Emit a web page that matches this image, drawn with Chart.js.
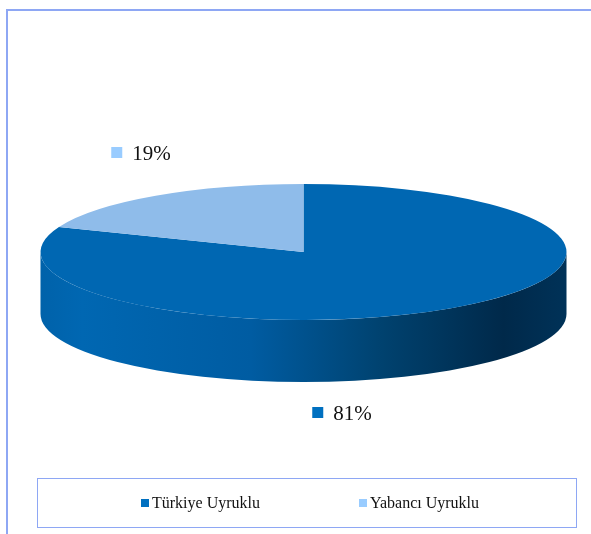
<!DOCTYPE html>
<html>
<head>
<meta charset="utf-8">
<script src="https://cdn.jsdelivr.net/npm/chart.js@4/dist/chart.umd.min.js"></script>
<style>
  html, body { margin: 0; padding: 0; background: #fff; }
  body { width: 591px; height: 534px; position: relative; overflow: hidden; font-family: "Liberation Serif", "Times New Roman", serif; }
  #frame { position: absolute; left: 6px; top: 9px; width: 600px; height: 540px; border-left: 2px solid #8ea7f4; border-top: 2px solid #8ea7f4; box-sizing: border-box; }
  #myPie { position: absolute; left: 0; top: 0; }
  #legendBox { position: absolute; left: 37px; top: 478px; width: 540px; height: 50px; border: 1.5px solid #8ea7f4; box-sizing: border-box;
    display: flex; justify-content: center; align-items: center; gap: 99px; padding-left: 6px; }
  .item { display: flex; align-items: center; font-size: 16px; color: #111; }
  .item span.sw { width: 8px; height: 8px; margin-right: 3px; display: inline-block; }
</style>
</head>
<body>
<div id="frame"></div>
<canvas id="myPie" width="591" height="534"></canvas>
<div id="legendBox"></div>
<script>
var labels = ["Türkiye Uyruklu", "Yabancı Uyruklu"];
var values = [81, 19];
var sliceColors = ["#0067b2", "#8fbcea"];
var legendColors = ["#0070c0", "#99ccff"];

// ellipse that the flat pie is squashed into
var CX = 303.5, CY = 252, RX = 263, RY = 68, DEPTH = 62;
// where the percent labels sit (centre of marker + text)
var labelAt = [{x: 342, y: 413}, {x: 141, y: 153}];

var pie3d = {
    id: "pie3d",
    beforeDatasetsDraw: function(chart) {
        var ctx = chart.ctx;
        var arcs = chart.getDatasetMeta(0).data;
        arcs.forEach(function(arc, i) {
            [0, 2 * Math.PI].forEach(function(off) {
                var a0 = Math.max(arc.startAngle, off);
                var a1 = Math.min(arc.endAngle, off + Math.PI);
                if (a1 <= a0) return;
                var g = ctx.createLinearGradient(CX - RX, 0, CX + RX, 0);
                if (i == 0) {
                    g.addColorStop(0, "#0062aa");
                    g.addColorStop(0.08, "#0067b2");
                    g.addColorStop(0.4, "#005ca2");
                    g.addColorStop(0.65, "#00426f");
                    g.addColorStop(0.88, "#00294a");
                    g.addColorStop(1, "#003258");
                } else {
                    g.addColorStop(0, "#7aa6d4");
                    g.addColorStop(1, "#3f6a96");
                }
                ctx.save();
                ctx.beginPath();
                ctx.ellipse(CX, CY, RX, RY, 0, a0, a1);
                ctx.ellipse(CX, CY + DEPTH, RX, RY, 0, a1, a0, true);
                ctx.closePath();
                ctx.fillStyle = g;
                ctx.fill();
                ctx.restore();
            });
        });
        var a = arcs[0];
        ctx.save();
        ctx.translate(CX, CY);
        ctx.scale(RX / a.outerRadius, RY / a.outerRadius);
        ctx.translate(-a.x, -a.y);
    },
    afterDatasetsDraw: function(chart) {
        var ctx = chart.ctx;
        ctx.restore();
        var total = values.reduce(function(s, v) { return s + v; }, 0);
        ctx.save();
        ctx.font = "21px 'Liberation Serif'";
        ctx.textBaseline = "middle";
        values.forEach(function(v, i) {
            var txt = Math.round(v / total * 100) + "%";
            var w = ctx.measureText(txt).width;
            var full = 11 + 10 + w;
            var x = labelAt[i].x - full / 2, y = labelAt[i].y;
            ctx.fillStyle = legendColors[i];
            ctx.fillRect(x, y - 6, 11, 11);
            ctx.fillStyle = "#111";
            ctx.fillText(txt, x + 21, y + 1);
        });
        ctx.restore();
    }
};

var ctx = document.getElementById("myPie");
var myPieChart = new Chart(ctx, {
    type: "pie",
    data: {
        labels: labels,
        datasets: [{
            data: values,
            backgroundColor: sliceColors,
            borderWidth: 0
        }]
    },
    options: {
        responsive: false,
        animation: false,
        plugins: {
            legend: { display: false },
            tooltip: { enabled: false }
        }
    },
    plugins: [pie3d]
});

var box = document.getElementById("legendBox");
labels.forEach(function(l, i) {
    var d = document.createElement("div");
    d.className = "item";
    d.innerHTML = '<span class="sw" style="background:' + legendColors[i] + '"></span>' + l;
    box.appendChild(d);
});
</script>
</body>
</html>
